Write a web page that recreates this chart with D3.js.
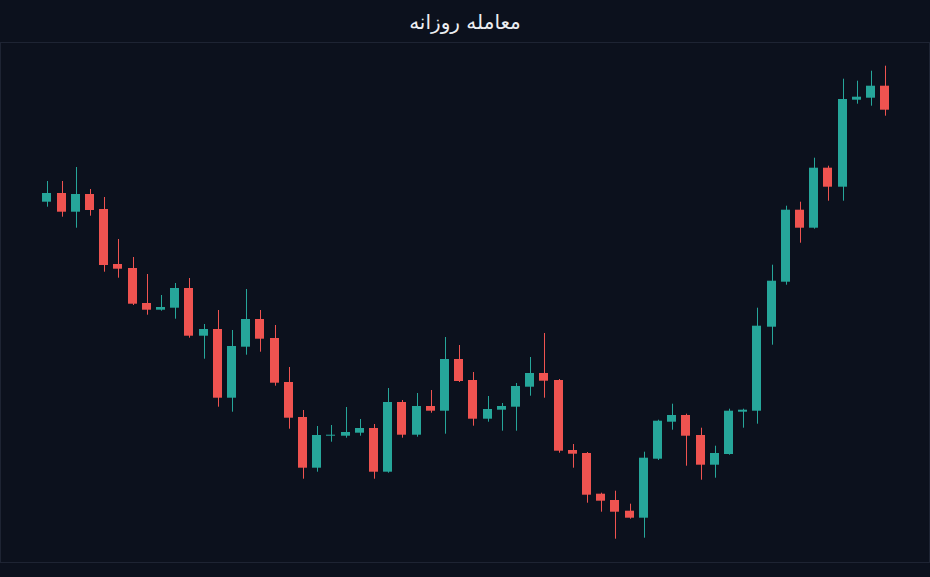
<!DOCTYPE html>
<html lang="fa">
  <head>
    <meta charset="UTF-8" />
    <title>معامله روزانه</title>
    <style>
      body {
        margin: 0;
        background: #0c111d;
      }
      svg {
        display: block;
      }
    </style>
  </head>
  <body>
    <script src="https://d3js.org/d3.v7.min.js"></script>
    <script>

// daily OHLC values
var days = d3.range(60);
var opens = [398.3, 407, 388.3, 406, 391, 336, 332, 297, 290.3, 292.3,
  312, 264.3, 271, 202.3, 253.3, 281, 262, 218, 183, 132.3,
  164.3, 164.3, 167.3, 172, 128.3, 198, 165.3, 194, 189.3, 241,
  220, 181.3, 190.3, 193.3, 213.3, 227, 220, 150, 147, 106.3,
  100, 89.3, 82.3, 141.3, 178.3, 185, 165, 135.3, 146, 188.3,
  189.3, 273.3, 318.3, 390.3, 372.3, 432.3, 413.3, 500.3, 502.3, 514.3];
var highs = [419, 419, 433, 411, 403, 361, 343, 326, 305, 317,
  322, 276, 290, 270, 311, 290, 275, 233, 190, 174,
  175, 193, 181, 176, 212, 200, 207, 210, 263, 255,
  228, 204, 197, 217, 243, 267, 221, 156, 148, 107.3,
  109.3, 96.3, 148.3, 180.3, 196.3, 186.3, 172.3, 154.3, 191.3, 191.3,
  292.3, 335.3, 394.3, 398.3, 442.3, 434.3, 521.3, 519.3, 529.3, 534.3];
var lows = [393.3, 383.3, 372.3, 384.3, 328.3, 322.3, 295, 285.3, 289.3, 281.3,
  262.3, 241.3, 193.3, 188.3, 245.3, 248.3, 214.3, 171.3, 121.3, 128.3,
  158.3, 162.3, 164.3, 121.3, 127.3, 162.3, 163.3, 187.3, 166.3, 218,
  174.3, 178.3, 169.3, 169.3, 204.3, 202.3, 147.3, 132.3, 97.3, 88.3,
  61.3, 81.3, 62.3, 140, 170.3, 134.3, 120.3, 122.3, 145.3, 172.3,
  176.3, 255.3, 315.3, 357.3, 371.3, 399.3, 399.3, 496.3, 494.3, 484.3];
var closes = [407, 388.3, 406, 390, 335, 331.3, 296.3, 290.3, 293, 312,
  264.3, 271, 202.3, 254, 281, 261.3, 217.3, 182.3, 132.3, 165,
  165.3, 168, 172, 128.3, 198, 165.3, 194, 189.3, 241, 219,
  181.3, 191, 194, 214, 227, 219.3, 149.3, 146.3, 105.3, 99.3,
  88.3, 82.3, 142.3, 179.3, 185, 164.3, 135.3, 147, 189.3, 190.3,
  274.3, 319.3, 390.3, 372.3, 432.3, 413.3, 501, 503.3, 514.3, 490.3];

var upColor = "#26a69a",
    downColor = "#ef5350";

var width = 930,
    height = 577;

var plot = { left: 0, top: 42, right: 930, bottom: 562 };

var candles = days.map(function(d, i) {
  return { day: d, o: opens[i], h: highs[i], l: lows[i], c: closes[i] };
});

var svg = d3.select("body").append("svg")
  .attr("width", width)
  .attr("height", height);

svg.append("rect")
  .attr("width", width)
  .attr("height", height)
  .attr("fill", "#0c111d");

// title
svg.append("text")
  .attr("x", width / 2)
  .attr("y", 29)
  .attr("text-anchor", "middle")
  .attr("direction", "rtl")
  .attr("fill", "#eceef2")
  .style("font", "20px 'DejaVu Sans', sans-serif")
  .text("معامله روزانه");

// plot frame
svg.append("rect")
  .attr("x", plot.left + 0.5)
  .attr("y", plot.top + 0.5)
  .attr("width", plot.right - plot.left - 1)
  .attr("height", plot.bottom - plot.top)
  .attr("fill", "none")
  .attr("stroke", "#1e2433");

var x = d3.scaleBand()
  .domain(days)
  .range([40.2, 892.4])
  .paddingInner(0.36)
  .paddingOuter(0.18);

var y = d3.scaleLinear()
  .domain([38, 558])
  .range([plot.bottom, plot.top]);

var g = svg.append("g");

var candle = g.selectAll("g.candle")
  .data(candles)
  .enter()
  .append("g")
  .attr("class", "candle");

function colorOf(d) {
  return d.c >= d.o ? upColor : downColor;
}

function cx(d) {
  return Math.round(x(d.day) + x.bandwidth() / 2) + 0.5;
}

candle.append("line")
  .attr("x1", cx)
  .attr("x2", cx)
  .attr("y1", function(d) { return y(d.h); })
  .attr("y2", function(d) { return y(d.l); })
  .attr("stroke", colorOf)
  .attr("stroke-width", 1);

candle.append("rect")
  .attr("x", function(d) { return cx(d) - 0.5 - Math.round(x.bandwidth() / 2); })
  .attr("y", function(d) { return y(Math.max(d.o, d.c)); })
  .attr("width", Math.round(x.bandwidth()))
  .attr("height", function(d) {
    return Math.max(1, Math.abs(y(d.o) - y(d.c)));
  })
  .attr("fill", colorOf);

    </script>
  </body>
</html>
